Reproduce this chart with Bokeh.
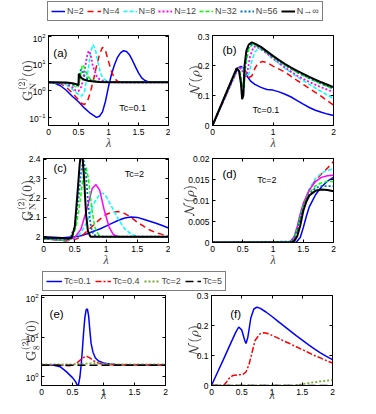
from bokeh.plotting import figure
from bokeh.layouts import column, row
from bokeh.models import FixedTicker, Label, Legend, LegendItem, LinearAxis, LogAxis
from bokeh.embed import file_html
from bokeh.resources import INLINE

# ---------------- data ----------------
a_N2_x = [0, 0.1, 0.2, 0.3, 0.4, 0.5, 0.6, 0.7, 0.8, 0.85, 0.9, 0.95, 1.0, 1.05, 1.1, 1.15, 1.2, 1.25, 1.3, 1.35, 1.4, 1.45, 1.5, 1.55, 1.6, 1.65, 1.7, 2.0]
a_N2_y = [2, 1.9, 1.5, 1.0, 0.6, 0.38, 0.22, 0.14, 0.1, 0.11, 0.16, 0.4, 1.4, 4, 9, 17, 25, 30, 28, 21, 13, 7.5, 4.5, 3, 2.4, 2.15, 2.05, 2]
a_N4_x = [0, 0.1, 0.2, 0.3, 0.4, 0.5, 0.55, 0.6, 0.65, 0.7, 0.75, 0.8, 0.85, 0.9, 0.95, 1.0, 1.05, 1.1, 1.15, 1.2, 1.3, 2.0]
a_N4_y = [2, 1.97, 1.8, 1.3, 0.8, 0.45, 0.33, 0.3, 0.4, 0.9, 2.5, 8, 22, 40, 30, 12, 5, 2.8, 2.2, 2.05, 2, 2]
a_N8_x = [0, 0.2, 0.3, 0.4, 0.5, 0.55, 0.6, 0.65, 0.7, 0.74, 0.78, 0.82, 0.86, 0.9, 0.95, 1.0, 1.1, 2.0]
a_N8_y = [2, 1.9, 1.6, 1.1, 0.7, 0.62, 0.9, 4, 25, 50, 35, 12, 5, 3, 2.4, 2.15, 2.03, 2]
a_N12_x = [0, 0.2, 0.3, 0.4, 0.45, 0.5, 0.55, 0.6, 0.64, 0.67, 0.7, 0.74, 0.8, 0.85, 0.9, 1.0, 1.1, 2.0]
a_N12_y = [2, 1.95, 1.75, 1.3, 1.0, 0.95, 1.4, 5, 18, 30, 22, 8, 3.5, 2.6, 2.3, 2.1, 2.02, 2]
a_N32_x = [0, 0.3, 0.4, 0.45, 0.5, 0.53, 0.56, 0.58, 0.62, 0.66, 0.7, 0.8, 0.9, 1.0, 2.0]
a_N32_y = [2, 1.9, 1.6, 1.35, 1.4, 3, 8, 9, 5, 3.2, 2.6, 2.2, 2.08, 2.03, 2]
a_N56_x = [0, 0.3, 0.4, 0.47, 0.5, 0.52, 0.54, 0.57, 0.6, 0.65, 0.7, 0.8, 1.0, 2.0]
a_N56_y = [2, 1.9, 1.7, 1.5, 1.7, 4, 6, 5, 3.5, 2.7, 2.4, 2.15, 2.03, 2]
a_Ninf_x = [0, 0.3, 0.4, 0.45, 0.5, 0.505, 0.52, 0.55, 0.6, 0.66, 0.75, 0.85, 1.0, 1.2, 2.0]
a_Ninf_y = [2, 1.98, 1.85, 1.75, 1.6, 4.2, 3.6, 2.9, 2.5, 2.3, 2.15, 2.07, 2.03, 2.0, 2.0]

b_N2_x = [0, 0.42, 0.47, 0.52, 0.57, 0.63, 0.7, 0.8, 0.9, 1.0, 1.1, 1.2, 1.3, 1.4, 1.5, 1.6, 1.7, 1.8, 1.9, 2.0]
b_N2_y = [0, 0.192, 0.197, 0.19, 0.165, 0.148, 0.137, 0.127, 0.12, 0.118, 0.112, 0.104, 0.095, 0.083, 0.071, 0.06, 0.051, 0.044, 0.038, 0.033]
b_N4_x = [0, 0.42, 0.5, 0.55, 0.6, 0.65, 0.7, 0.75, 0.82, 0.9, 1.0, 1.2, 1.4, 1.5, 1.6, 1.8, 2.0]
b_N4_y = [0, 0.19, 0.197, 0.18, 0.16, 0.165, 0.19, 0.207, 0.213, 0.21, 0.198, 0.178, 0.15, 0.137, 0.124, 0.097, 0.068]
b_N8_x = [0, 0.42, 0.5, 0.56, 0.6, 0.65, 0.7, 0.75, 0.8, 0.9, 1.0, 1.2, 1.4, 1.6, 1.8, 2.0]
b_N8_y = [0, 0.19, 0.192, 0.165, 0.17, 0.215, 0.245, 0.255, 0.254, 0.24, 0.222, 0.19, 0.162, 0.137, 0.113, 0.09]
b_N12_x = [0, 0.42, 0.48, 0.53, 0.57, 0.62, 0.68, 0.72, 0.8, 0.9, 1.0, 1.2, 1.4, 1.6, 1.8, 2.0]
b_N12_y = [0, 0.19, 0.19, 0.16, 0.17, 0.23, 0.262, 0.263, 0.255, 0.24, 0.224, 0.193, 0.166, 0.145, 0.127, 0.112]
b_N32_x = [0, 0.4, 0.45, 0.49, 0.52, 0.55, 0.6, 0.66, 0.7, 0.8, 0.9, 1.0, 1.2, 1.4, 1.6, 1.8, 2.0]
b_N32_y = [0, 0.19, 0.185, 0.14, 0.125, 0.2, 0.255, 0.27, 0.268, 0.257, 0.243, 0.228, 0.2, 0.176, 0.156, 0.138, 0.122]
b_N56_x = [0, 0.4, 0.45, 0.49, 0.51, 0.54, 0.58, 0.65, 0.7, 0.8, 0.9, 1.0, 1.2, 1.4, 1.6, 1.8, 2.0]
b_N56_y = [0, 0.19, 0.18, 0.12, 0.11, 0.2, 0.255, 0.272, 0.27, 0.258, 0.244, 0.23, 0.202, 0.178, 0.158, 0.14, 0.124]
b_Ninf_x = [0, 0.4, 0.44, 0.47, 0.49, 0.51, 0.53, 0.56, 0.6, 0.65, 0.7, 0.8, 0.9, 1.0, 1.1, 1.2, 1.3, 1.4, 1.5, 1.6, 1.7, 1.8, 1.9, 2.0]
b_Ninf_y = [0, 0.191, 0.18, 0.14, 0.088, 0.1, 0.2, 0.25, 0.27, 0.277, 0.273, 0.262, 0.247, 0.232, 0.218, 0.205, 0.193, 0.182, 0.172, 0.162, 0.153, 0.144, 0.136, 0.128]

c_N2_x = [0, 0.3, 0.5, 0.6, 0.7, 0.8, 0.9, 1.0, 1.1, 1.2, 1.3, 1.4, 1.5, 1.6, 1.7, 1.8, 1.9, 2.0]
c_N2_y = [2.0, 1.995, 2.0, 2.005, 2.015, 2.028, 2.04, 2.055, 2.07, 2.085, 2.097, 2.102, 2.1, 2.09, 2.08, 2.07, 2.058, 2.045]
c_N4_x = [0, 0.35, 0.5, 0.6, 0.7, 0.8, 0.9, 1.0, 1.1, 1.2, 1.3, 1.4, 1.5, 1.6, 1.7, 1.8, 1.9, 2.0]
c_N4_y = [1.99, 1.978, 1.985, 2.0, 2.03, 2.06, 2.09, 2.115, 2.128, 2.13, 2.12, 2.1, 2.075, 2.055, 2.035, 2.02, 2.012, 2.005]
c_N8_x = [0, 0.35, 0.5, 0.6, 0.7, 0.8, 0.9, 0.95, 1.0, 1.1, 1.2, 1.3, 1.4, 1.5, 2.0]
c_N8_y = [1.99, 1.98, 1.99, 2.02, 2.08, 2.17, 2.22, 2.225, 2.21, 2.15, 2.09, 2.04, 2.015, 2.0, 2.0]
c_N12_x = [0, 0.35, 0.5, 0.6, 0.7, 0.78, 0.84, 0.9, 0.97, 1.05, 1.12, 1.2, 2.0]
c_N12_y = [1.99, 1.98, 1.995, 2.04, 2.15, 2.25, 2.27, 2.24, 2.14, 2.05, 2.01, 2.0, 2.0]
c_N32_x = [0, 0.35, 0.45, 0.52, 0.58, 0.63, 0.68, 0.72, 0.77, 0.82, 0.88, 0.95, 2.0]
c_N32_y = [1.99, 1.98, 1.99, 2.05, 2.17, 2.3, 2.36, 2.3, 2.15, 2.05, 2.01, 2.0, 2.0]
c_N56_x = [0, 0.35, 0.42, 0.5, 0.56, 0.6, 0.64, 0.68, 0.72, 0.76, 0.8, 0.9, 2.0]
c_N56_y = [1.99, 1.985, 1.99, 2.05, 2.2, 2.33, 2.4, 2.32, 2.15, 2.05, 2.01, 2.0, 2.0]
c_Ninf_x = [0, 0.3, 0.4, 0.45, 0.5, 0.55, 0.58, 0.6, 0.62, 0.65, 0.68, 0.71, 0.75, 2.0]
c_Ninf_y = [1.995, 1.993, 1.99, 1.995, 2.05, 2.25, 2.38, 2.43, 2.43, 2.3, 2.12, 2.03, 2.0, 2.0]

d_N2_x = [0, 1.38, 1.45, 1.5, 1.55, 1.6, 1.7, 1.8, 1.9, 2.0]
d_N2_y = [0, 0, 0.0012, 0.0035, 0.0062, 0.0085, 0.0113, 0.0132, 0.0146, 0.0155]
d_N4_x = [0, 1.3, 1.35, 1.4, 1.45, 1.5, 1.6, 1.7, 1.8, 1.9, 2.0]
d_N4_y = [0, 0, 0.0008, 0.0028, 0.0058, 0.0088, 0.0125, 0.0148, 0.0163, 0.0177, 0.0193]
d_N8_x = [0, 1.3, 1.35, 1.4, 1.45, 1.5, 1.6, 1.7, 1.8, 1.9, 2.0]
d_N8_y = [0, 0.0002, 0.0012, 0.0035, 0.0065, 0.0092, 0.0128, 0.0152, 0.0165, 0.0172, 0.0175]
d_N12_x = [0, 1.28, 1.35, 1.4, 1.45, 1.5, 1.6, 1.7, 1.8, 1.9, 2.0]
d_N12_y = [0, 0.0002, 0.0014, 0.0038, 0.0068, 0.0093, 0.0125, 0.0145, 0.0155, 0.0159, 0.016]
d_N32_x = [0, 1.3, 1.35, 1.4, 1.45, 1.5, 1.6, 1.7, 1.8, 1.9, 2.0]
d_N32_y = [0, 0.0002, 0.0012, 0.0033, 0.0062, 0.0088, 0.0118, 0.0135, 0.0142, 0.0145, 0.0145]
d_N56_x = [0, 1.3, 1.35, 1.4, 1.45, 1.5, 1.6, 1.7, 1.8, 1.9, 2.0]
d_N56_y = [0, 0.0002, 0.0011, 0.0031, 0.0059, 0.0085, 0.0114, 0.013, 0.0134, 0.0134, 0.0134]
d_Ninf_x = [0, 1.3, 1.35, 1.4, 1.45, 1.5, 1.55, 1.6, 1.7, 1.8, 1.9, 2.0]
d_Ninf_y = [0, 0, 0.0003, 0.0015, 0.004, 0.0075, 0.0097, 0.0112, 0.0123, 0.0126, 0.0125, 0.0122]

e_T01_x = [0, 0.1, 0.2, 0.3, 0.4, 0.5, 0.55, 0.59, 0.62, 0.64, 0.66, 0.68, 0.7, 0.72, 0.74, 0.76, 0.78, 0.8, 0.83, 0.87, 0.92, 1.0, 1.1, 1.2, 1.4, 2.0]
e_T01_y = [2, 2, 1.95, 1.8, 1.35, 0.95, 0.75, 0.55, 1.0, 2.0, 5, 14, 32, 50, 53, 35, 15, 7, 4.2, 3, 2.5, 2.25, 2.1, 2.04, 2.01, 2.0]
e_T04_x = [0, 0.3, 0.45, 0.55, 0.62, 0.68, 0.73, 0.78, 0.85, 0.92, 1.0, 1.1, 2.0]
e_T04_y = [2, 1.98, 1.9, 2.1, 2.6, 3.1, 3.3, 3.0, 2.5, 2.2, 2.08, 2.02, 2.0]
e_T2_x = [0, 0.5, 0.7, 0.85, 1.0, 1.2, 2.0]
e_T2_y = [2.05, 2.05, 2.15, 2.2, 2.12, 2.07, 2.05]
e_T5_x = [0, 1.0, 2.0]
e_T5_y = [1.97, 1.97, 1.97]

f_T01_x = [0, 0.1, 0.2, 0.3, 0.4, 0.45, 0.5, 0.55, 0.57, 0.6, 0.65, 0.7, 0.75, 0.8, 0.9, 1.0, 1.1, 1.2, 1.3, 1.4, 1.5, 1.6, 1.7, 1.8, 1.9, 2.0]
f_T01_y = [0, 0.044, 0.088, 0.133, 0.177, 0.195, 0.185, 0.15, 0.14, 0.16, 0.225, 0.255, 0.261, 0.258, 0.245, 0.23, 0.214, 0.198, 0.182, 0.166, 0.151, 0.136, 0.122, 0.109, 0.097, 0.086]
f_T04_x = [0, 0.2, 0.25, 0.3, 0.35, 0.45, 0.52, 0.57, 0.62, 0.67, 0.72, 0.8, 0.87, 0.95, 1.0, 1.1, 1.2, 1.3, 1.4, 1.5, 1.6, 1.7, 1.8, 1.9, 2.0]
f_T04_y = [0, 0, 0.012, 0.026, 0.033, 0.036, 0.037, 0.045, 0.07, 0.11, 0.15, 0.172, 0.176, 0.172, 0.167, 0.158, 0.148, 0.139, 0.129, 0.12, 0.11, 0.1, 0.092, 0.083, 0.075]
f_T2_x = [0, 1.35, 1.45, 1.6, 1.8, 2.0]
f_T2_y = [0, 0, 0.002, 0.008, 0.014, 0.018]
f_T5_x = [0, 1.0, 2.0]
f_T5_y = [0, 0, 0]

# legend-only sample (outside the visible range of the legend strips)
legend_x = [-3, -2]
legend_y = [-3, -3]

x_ticks = [0, 0.5, 1, 1.5, 2]
x_labels = ["0", "0.5", "1", "1.5", "2"]
x_ticks_b = [0, 1, 2]
x_labels_b = ["0", "1", "2"]
ya_ticks = [0.1, 1, 10, 100]
yb_ticks = [0, 0.1, 0.2, 0.3]
yb_labels = ["0", "0.1", "0.2", "0.3"]
yc_ticks = [2, 2.1, 2.2, 2.3, 2.4]
yc_labels = ["2", "2.1", "2.2", "2.3", "2.4"]
yd_ticks = [0, 0.005, 0.01, 0.015, 0.02]
yd_labels = ["0", "0.005", "0.01", "0.015", "0.02"]
ye_ticks = [1, 10, 100]

N_labels = ["N=2", "N=4", "N=8", "N=12", "N=32", "N=56", "N\u2192\u221e"]
T_labels = ["Tc=0.1", "Tc=0.4", "Tc=2", "Tc=5"]

N_styles = [("#0000FF", "solid", 1.5), ("#FF0000", "6 4", 1.5), ("#00FFFF", "4 2", 1.5),
            ("#FF00FF", "2 2", 1.8), ("#00FF00", "4 2", 1.5), ("#0072BD", "2 2", 1.8),
            ("#000000", "solid", 2.0)]
T_styles = [("#0000FF", "solid", 1.5), ("#FF0000", "6 2 2 2", 1.5),
            ("#77AC30", "2 2", 1.8), ("#000000", "8 4", 1.5)]

FONT = "Liberation Sans"

G_N = r"$$\mathrm{G}^{(2)}_{\mathrm{N}}(0)$$"
G_8 = r"$$\mathrm{G}^{(2)}_{8}(0)$$"
NR = r"$$\mathcal{N}(\rho)$$"


def make_fig(w, h, left, right, top, bottom, xr, yr, ylog, xt, xl, yt, yl, xstand,
             ylabel, ystand):
    p = figure(width=w, height=h, x_range=xr, y_range=yr,
               y_axis_type="log" if ylog else "linear",
               output_backend="svg", toolbar_location=None, title=None,
               min_border_left=left, min_border_right=right,
               min_border_top=top, min_border_bottom=bottom)
    p.grid.visible = False
    p.outline_line_color = "black"
    p.outline_line_width = 1
    xa, ya = p.xaxis[0], p.yaxis[0]
    for ax in (xa, ya):
        ax.major_tick_in = 3
        ax.major_tick_out = 0
        ax.minor_tick_line_color = None
        ax.axis_line_color = "black"
        ax.major_tick_line_color = "black"
        ax.major_label_text_font = FONT
        ax.major_label_text_font_size = "8.5px"
        ax.major_label_text_color = "black"
        ax.major_label_standoff = 3
    xa.ticker = FixedTicker(ticks=xt)
    xa.major_label_overrides = dict(zip(xt, xl))
    ya.ticker = FixedTicker(ticks=yt)
    if yl is not None:
        ya.major_label_overrides = dict(zip(yt, yl))
    xa.axis_label = "\u03bb"
    xa.axis_label_text_font = "Liberation Serif"
    xa.axis_label_text_font_style = "italic"
    xa.axis_label_text_font_size = "12px"
    xa.axis_label_standoff = xstand
    ya.axis_label = ylabel
    ya.axis_label_text_font_size = "11px"
    ya.axis_label_standoff = ystand
    # mirrored tick marks (top / right), no labels
    topax = LinearAxis(ticker=FixedTicker(ticks=xt), major_label_text_font_size="1px",
                       major_label_overrides={t: "" for t in xt},
                       major_label_standoff=0, major_tick_in=3, major_tick_out=0,
                       minor_tick_line_color=None, axis_line_color=None)
    p.add_layout(topax, "above")
    RA = LogAxis if ylog else LinearAxis
    rightax = RA(ticker=FixedTicker(ticks=yt), major_label_text_font_size="1px",
                 major_label_overrides={t: "" for t in yt},
                 major_label_standoff=0, major_tick_in=3, major_tick_out=0,
                 minor_tick_line_color=None, axis_line_color=None)
    p.add_layout(rightax, "right")
    return p


def add_label(p, x, y, text, size):
    p.add_layout(Label(x=x, y=y, text=text, text_font=FONT, text_font_size=size,
                       text_baseline="middle", text_align="left", text_color="black"))


def draw(p, xs, ys, styles):
    for x, y, (c, d, w) in zip(xs, ys, styles):
        p.line(x, y, line_color=c, line_dash=d, line_width=w)


def legend_strip(h, labels, styles, loc, glyph_w, spacing):
    f = figure(width=376, height=h, x_range=(0, 1), y_range=(0, 1),
               x_axis_location=None, y_axis_location=None, output_backend="svg",
               toolbar_location=None, title=None, min_border=0)
    f.outline_line_color = None
    f.grid.visible = False
    its = []
    for lab, (c, d, w) in zip(labels, styles):
        r = f.line(legend_x, legend_y, line_color=c, line_dash=d, line_width=w)
        its.append(LegendItem(label=lab, renderers=[r]))
    L = Legend(items=its, location=loc, orientation="horizontal",
               padding=3, spacing=spacing, margin=0, label_standoff=2, glyph_width=glyph_w,
               glyph_height=12, label_height=12, label_width=0, label_text_font=FONT,
               label_text_font_size="9px", border_line_color="black",
               border_line_width=1, background_fill_alpha=1.0)
    f.add_layout(L, "center")
    return f


leg1 = legend_strip(33, N_labels, N_styles, (47, 12), 14, 3)

# ---------------- row (a) (b) ----------------
fa = make_fig(170, 119, 48, 2, 2, 23, (0, 2), (0.05, 110), True, x_ticks, x_labels,
              ya_ticks, None, -2, G_N, -10)
draw(fa, [a_N2_x, a_N4_x, a_N8_x, a_N12_x, a_N32_x, a_N56_x, a_Ninf_x],
     [a_N2_y, a_N4_y, a_N8_y, a_N12_y, a_N32_y, a_N56_y, a_Ninf_y], N_styles)
add_label(fa, 0.08, 25, "(a)", "11.5px")
add_label(fa, 1.18, 0.225, "Tc=0.1", "9px")

fb = make_fig(206, 119, 42, 43, 2, 23, (0, 2), (0, 0.3), False, x_ticks_b, x_labels_b,
              yb_ticks, yb_labels, -2, NR, -8)
draw(fb, [b_N2_x, b_N4_x, b_N8_x, b_N12_x, b_N32_x, b_N56_x, b_Ninf_x],
     [b_N2_y, b_N4_y, b_N8_y, b_N12_y, b_N32_y, b_N56_y, b_Ninf_y], N_styles)
add_label(fb, 0.165, 0.252, "(b)", "11.5px")
add_label(fb, 0.66, 0.052, "Tc=0.1", "9px")

# ---------------- row (c) (d) ----------------
N_styles_cd = list(N_styles)
N_styles_cd[3] = ("#FF00FF", "solid", 1.5)
fc = make_fig(170, 117, 43, 2, 6, 22, (0, 2), (1.97, 2.405), False, x_ticks, x_labels,
              yc_ticks, yc_labels, -2, G_N, -10)
draw(fc, [c_N2_x, c_N4_x, c_N8_x, c_N12_x, c_N32_x, c_N56_x, c_Ninf_x],
     [c_N2_y, c_N4_y, c_N8_y, c_N12_y, c_N32_y, c_N56_y, c_Ninf_y], N_styles_cd)
add_label(fc, 0.16, 2.355, "(c)", "11.5px")
add_label(fc, 1.3, 2.325, "Tc=2", "9px")

fd = make_fig(206, 117, 42, 43, 5, 22, (0, 2), (0, 0.02), False, x_ticks, x_labels,
              yd_ticks, yd_labels, -2, NR, -12)
draw(fd, [d_N2_x, d_N4_x, d_N8_x, d_N12_x, d_N32_x, d_N56_x, d_Ninf_x],
     [d_N2_y, d_N4_y, d_N8_y, d_N12_y, d_N32_y, d_N56_y, d_Ninf_y], N_styles_cd)
add_label(fd, 0.165, 0.0164, "(d)", "11.5px")
add_label(fd, 0.74, 0.0149, "Tc=2", "9px")

leg2 = legend_strip(22, T_labels, T_styles, (42, 0), 16, 4)

# ---------------- row (e) (f) ----------------
fe = make_fig(170, 123, 41, 5, 3, 28, (0, 2), (0.6, 115), True, x_ticks, x_labels,
              ye_ticks, None, -10, G_8, -17)
draw(fe, [e_T01_x, e_T04_x, e_T2_x, e_T5_x], [e_T01_y, e_T04_y, e_T2_y, e_T5_y], T_styles)
add_label(fe, 0.13, 40, "(e)", "11.5px")

ff = make_fig(206, 123, 41, 44, 4, 29, (0, 2), (0, 0.3), False, x_ticks, x_labels,
              yb_ticks, yb_labels, -10, NR, -8)
draw(ff, [f_T01_x, f_T04_x, f_T2_x, f_T5_x], [f_T01_y, f_T04_y, f_T2_y, f_T5_y], T_styles)
add_label(ff, 0.31, 0.24, "(f)", "11.5px")

layout = column(leg1, row(fa, fb, spacing=0), row(fc, fd, spacing=0), leg2,
                row(fe, ff, spacing=0), spacing=0)

open("out.html", "w").write(file_html(layout, INLINE))
